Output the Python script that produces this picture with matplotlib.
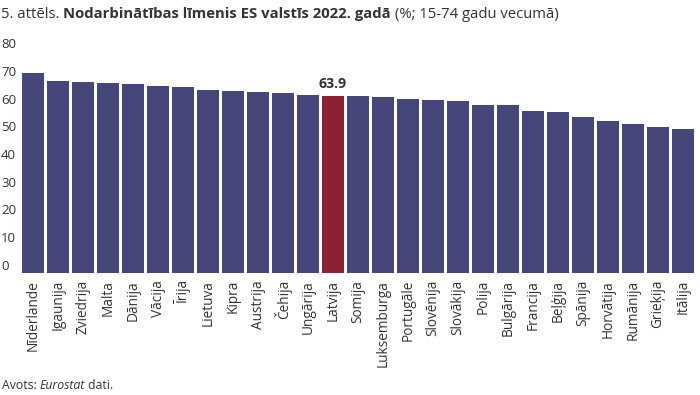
import matplotlib
matplotlib.use("Agg")
import matplotlib.pyplot as plt
from matplotlib.transforms import blended_transform_factory

plt.rcParams['font.family'] = ['Open Sans', 'DejaVu Sans']

countries = ["Nīderlande", "Igaunija", "Zviedrija", "Malta", "Dānija", "Vācija", "Īrija",
             "Lietuva", "Kipra", "Austrija", "Čehija", "Ungārija", "Latvija", "Somija",
             "Luksemburga", "Portugāle", "Slovēnija", "Slovākija", "Polija", "Bulgārija",
             "Francija", "Beļģija", "Spānija", "Horvātija", "Rumānija", "Grieķija", "Itālija"]
values = [72.1, 69.2, 68.8, 68.5, 68.1, 67.4, 67.0, 65.9, 65.6, 65.2, 64.9, 64.3, 63.9,
          63.8, 63.4, 62.7, 62.3, 61.9, 60.5, 60.5, 58.4, 58.0, 56.2, 54.8, 53.7, 52.6, 51.9]
highlight = "Latvija"
yticks = [0, 10, 20, 30, 40, 50, 60, 70, 80]

W, H = 700, 395
fig = plt.figure(figsize=(W / 100, H / 100), dpi=100)
ax = fig.add_axes([20.5 / W, (H - 273) / H, 675 / W, 222 / H])

base_col = "#45477A"
hi_col = "#8A2233"
colors = [hi_col if c == highlight else base_col for c in countries]
x = list(range(len(countries)))
ax.bar(x, values, width=0.88, color=colors, zorder=2)
ax.set_xlim(-0.5, len(countries) - 0.5)
ax.set_ylim(0, 80)

for s in ax.spines.values():
    s.set_visible(False)
ax.set_yticks([])
ax.set_xticks(x)
ax.set_xticklabels(countries, rotation=90, fontsize=9.8, color="#333333")
ax.tick_params(axis='x', length=0, pad=5)

# baseline
ax.axhline(0, color="#cccccc", lw=0.8, zorder=1)

# y labels (above gridline positions)
tr = blended_transform_factory(fig.transFigure, ax.transData)
for v in yticks:
    ax.annotate(str(v), xy=(1 / W, v), xycoords=tr, xytext=(0, 3),
                textcoords='offset pixels', ha='left', va='baseline',
                fontsize=9.5, color="#333333", annotation_clip=False)

# value label for highlight
i = countries.index(highlight)
ax.annotate(f"{values[i]:.1f}", xy=(i, values[i]), xytext=(0, 5), textcoords='offset pixels',
            ha='center', va='bottom', fontsize=10.2, fontweight='bold', color="#333333")

# title with mixed weights
renderer = fig.canvas.get_renderer()
def seq_text(parts, x0, y0, size):
    xp = x0
    for txt, kw in parts:
        t = fig.text(xp / W, 1 - y0 / H, txt, fontsize=size, color="#333333",
                     va='baseline', ha='left', **kw)
        bb = t.get_window_extent(renderer=renderer)
        xp = bb.x1
    return xp

seq_text([("5. attēls. ", {}),
          ("Nodarbinātības līmenis ES valstīs 2022. gadā", {'fontweight': 'bold'}),
          (" (%; 15-74 gadu vecumā)", {})], 1, 18, 10.7)

seq_text([("Avots: ", {}), ("Eurostat", {'style': 'italic'}), (" dati.", {})], 2, 389, 8.8)

fig.savefig("out.png", dpi=100, facecolor="white")
